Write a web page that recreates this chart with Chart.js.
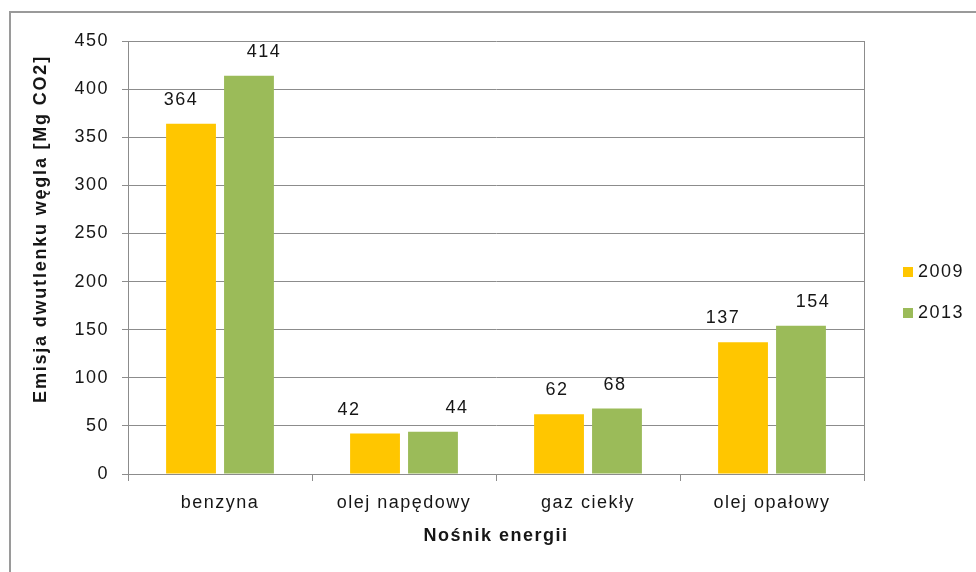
<!DOCTYPE html>
<html>
<head>
<meta charset="utf-8">
<script src="https://cdn.jsdelivr.net/npm/chart.js@4"></script>
<style>
  html, body { margin: 0; padding: 0; background: #fff; }
  #wrap { position: relative; width: 976px; height: 572px; }
  #frame { position: absolute; left: 9px; top: 11px; right: 0; bottom: 0; border-top: 2px solid #9a9a9a; border-left: 2px solid #9a9a9a; }
  #chart { position: absolute; left: 0; top: 0; }
</style>
</head>
<body>
<div id="wrap">
  <div id="frame"></div>
  <canvas id="chart" width="976" height="572"></canvas>
</div>
<script>
const categories = ["benzyna", "olej napędowy", "gaz ciekły", "olej opałowy"];
const years = ["2009", "2013"];
const emissions2009 = [364, 42, 62, 137];
const emissions2013 = [414, 44, 68, 154];
const yMin = 0;
const yMax = 450;
const yStep = 50;

const GRID = "#8c8c8c";
const TEXT = "#161616";
const FAMILY = "'Liberation Sans', Arial, sans-serif";
const SPACING = "1.5px";

// hand-placed horizontal nudges for the value labels, per series
const labelNudge = [[-10, -26, -2, -20], [15, 24, -2, 12]];

Chart.defaults.font.family = FAMILY;
Chart.defaults.font.size = 18;
Chart.defaults.color = TEXT;

// the whole chart uses slightly tracked-out lettering
const tracking = {
  id: "tracking",
  beforeLayout(chart) { chart.ctx.letterSpacing = SPACING; },
  beforeDraw(chart) { chart.ctx.letterSpacing = SPACING; }
};

// values above bars, rotated y title and the side legend
const extras = {
  id: "extras",
  afterDatasetsDraw(chart) {
    const ctx = chart.ctx;
    ctx.save();
    ctx.letterSpacing = SPACING;
    ctx.font = "18px " + FAMILY;
    ctx.fillStyle = TEXT;
    ctx.textAlign = "center";
    ctx.textBaseline = "middle";
    chart.data.datasets.forEach((ds, di) => {
      chart.getDatasetMeta(di).data.forEach((bar, i) => {
        ctx.fillText(String(ds.data[i]), bar.x + labelNudge[di][i], bar.y - 24);
      });
    });
    ctx.restore();
  },
  afterDraw(chart) {
    const ctx = chart.ctx;
    ctx.save();

    ctx.letterSpacing = "1.8px";
    ctx.font = "bold 18px " + FAMILY;
    ctx.fillStyle = TEXT;
    ctx.textAlign = "center";
    ctx.textBaseline = "middle";
    ctx.translate(41, 229);
    ctx.rotate(-Math.PI / 2);
    ctx.fillText("Emisja dwutlenku węgla [Mg CO2]", 0, 0);
    ctx.setTransform(1, 0, 0, 1, 0, 0);

    ctx.letterSpacing = SPACING;
    ctx.font = "18px " + FAMILY;
    ctx.textAlign = "left";
    chart.data.datasets.forEach((ds, di) => {
      const y = 272 + di * 41;
      ctx.fillStyle = ds.backgroundColor;
      ctx.fillRect(903, y - 5, 10, 10);
      ctx.fillStyle = TEXT;
      ctx.fillText(ds.label, 918, y);
    });
    ctx.restore();
  }
};

new Chart(document.getElementById("chart"), {
  type: "bar",
  data: {
    labels: categories,
    datasets: [
      { label: years[0], data: emissions2009, backgroundColor: "#ffc600" },
      { label: years[1], data: emissions2013, backgroundColor: "#9bbb59" }
    ]
  },
  options: {
    responsive: false,
    animation: false,
    categoryPercentage: 0.63,
    barPercentage: 0.86,
    layout: { padding: { top: 41, right: 112, bottom: 0, left: 0 } },
    plugins: {
      legend: { display: false },
      tooltip: { enabled: false }
    },
    scales: {
      x: {
        grid: {
          offset: true,
          color: c => c.type === "tick" ? "transparent" : GRID,
          tickColor: GRID,
          tickLength: 7
        },
        border: { color: GRID },
        ticks: { padding: 11, color: TEXT },
        title: {
          display: true,
          text: "Nośnik energii",
          color: TEXT,
          font: { size: 18, weight: "bold" },
          padding: { top: 0, bottom: 25 }
        },
        afterFit(scale) { scale.height = 98; }
      },
      y: {
        min: yMin,
        max: yMax,
        ticks: { stepSize: yStep, padding: 13, color: TEXT },
        grid: { color: GRID, tickColor: GRID, tickLength: 6 },
        border: { color: GRID },
        afterFit(scale) { scale.width = 128; }
      }
    }
  },
  plugins: [tracking, extras]
});
</script>
</body>
</html>
